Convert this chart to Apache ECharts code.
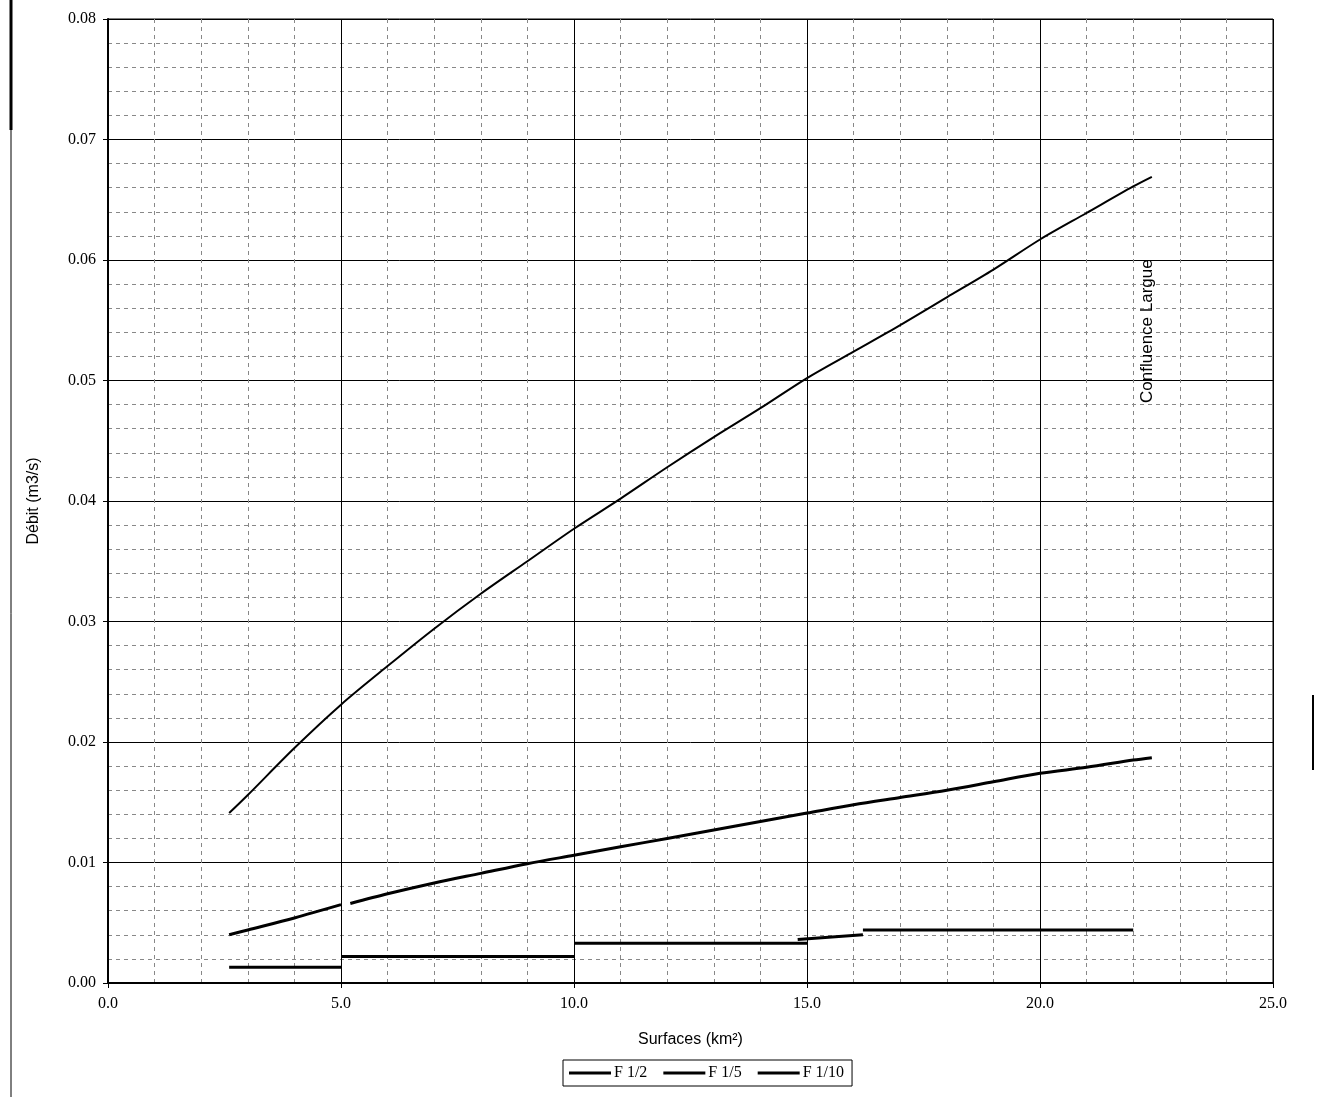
<!DOCTYPE html>
<html>
<head>
<meta charset="utf-8">
<script src="https://cdn.jsdelivr.net/npm/echarts@6/dist/echarts.min.js"></script>
<style>
html,body{margin:0;padding:0;background:#fff;}
#c{width:1320px;height:1097px;}
</style>
</head>
<body>
<div id="c"></div>
<script>
// ---- data ----
const xTickLabels = ['0.0','5.0','10.0','15.0','20.0','25.0'];
const yTickLabels = ['0.00','0.01','0.02','0.03','0.04','0.05','0.06','0.07','0.08'];

const f2X = [2.6, 3, 4, 5, 6, 7, 8, 9, 10, 11, 12, 13, 14, 15, 16, 17, 18, 19, 20, 21, 22, 22.4];
const f2Y = [0.0141, 0.0156, 0.0195, 0.0231, 0.0263, 0.0294, 0.0323, 0.0350, 0.0377, 0.0402, 0.0428, 0.0453, 0.0477, 0.0502, 0.0524, 0.0546, 0.0569, 0.0592, 0.0617, 0.0639, 0.0661, 0.0669];

const f5X = [2.6, 3, 4, 5, null, 5.2, 6, 7, 8, 9, 10, 11, 12, 13, 14, 15, 16, 17, 18, 19, 20, 21, 22, 22.4];
const f5Y = [0.0040, 0.0044, 0.0054, 0.0065, null, 0.0066, 0.0074, 0.0083, 0.0091, 0.0099, 0.0106, 0.0113, 0.0120, 0.0127, 0.0134, 0.0141, 0.0148, 0.0154, 0.0160, 0.0167, 0.0174, 0.0179, 0.0185, 0.0187];

const f10X = [2.6, 5, null, 5, 10, null, 10, 15, null, 14.8, 16.2, null, 16.2, 22];
const f10Y = [0.0013, 0.0013, null, 0.0022, 0.0022, null, 0.0033, 0.0033, null, 0.0036, 0.0040, null, 0.0044, 0.0044];

const seriesNames = ['F 1/2', 'F 1/5', 'F 1/10'];
const annotation = 'Confluence Largue';

function pairs(xs, ys){
  return xs.map((x,i)=> (x===null||ys[i]===null) ? '-' : [x, ys[i]]);
}

const chart = echarts.init(document.getElementById('c'), null, {renderer:'canvas'});
const serif = '"Liberation Serif", "DejaVu Serif", serif';
const sans = '"Liberation Sans", Arial, sans-serif';

const option = {
  backgroundColor:'#fff',
  animation:false,
  grid:{left:108, right:47, top:19, bottom:114, show:true, borderColor:'#000', borderWidth:1},
  xAxis:{
    type:'value', min:0, max:25, interval:5,
    name:'Surfaces (km²)', nameLocation:'middle', nameGap:49,
    nameTextStyle:{fontFamily:sans, fontSize:16, color:'#000'},
    axisLine:{show:true, onZero:false, lineStyle:{color:'#000', width:2}},
    axisTick:{show:true, length:5, inside:false, lineStyle:{color:'#000'}},
    axisLabel:{fontFamily:serif, fontSize:16, color:'#000', margin:13,
      formatter:(v)=> xTickLabels[Math.round(v/5)] },
    splitLine:{show:true, lineStyle:{color:'#000', width:1}},
    minorTick:{show:false, splitNumber:5},
    minorSplitLine:{show:true, lineStyle:{color:'#888', width:1, type:[4,4]}}
  },
  yAxis:{
    type:'value', min:0, max:0.08, interval:0.01,
    name:'Débit (m3/s)', nameLocation:'middle', nameGap:66, nameRotate:90,
    nameTextStyle:{fontFamily:sans, fontSize:16, color:'#000'},
    axisLine:{show:true, lineStyle:{color:'#000', width:2}},
    axisTick:{show:true, length:5, lineStyle:{color:'#000'}},
    axisLabel:{fontFamily:serif, fontSize:16, color:'#000', margin:12,
      formatter:(v)=> yTickLabels[Math.round(v*100)] },
    splitLine:{show:true, lineStyle:{color:'#000', width:1}},
    minorTick:{show:false, splitNumber:5},
    minorSplitLine:{show:true, lineStyle:{color:'#888', width:1, type:[4,4]}}
  },
  legend:{
    top:1060, left:563,
    data:[
      {name:seriesNames[0], icon:'rect'},
      {name:seriesNames[1], icon:'rect'},
      {name:seriesNames[2], icon:'rect'}
    ],
    itemWidth:42, itemHeight:3, itemGap:16,
    borderColor:'#000', borderWidth:1, padding:[5,8,5,6],
    textStyle:{fontFamily:serif, fontSize:16, color:'#000', padding:[0,0,0,-2]}
  },
  series:[
    {name:seriesNames[0], type:'line', data:pairs(f2X,f2Y), symbol:'none', smooth:0.3,
      lineStyle:{color:'#000', width:2}, itemStyle:{color:'#000'}, connectNulls:false, z:5},
    {name:seriesNames[1], type:'line', data:pairs(f5X,f5Y), symbol:'none', smooth:0.3,
      lineStyle:{color:'#000', width:3}, itemStyle:{color:'#000'}, connectNulls:false, z:5},
    {name:seriesNames[2], type:'line', data:pairs(f10X,f10Y), symbol:'none',
      lineStyle:{color:'#000', width:3}, itemStyle:{color:'#000'}, connectNulls:false, z:5}
  ]
};
chart.setOption(option);

const p = chart.convertToPixel({gridIndex:0}, [22.3, 0.0541]);
chart.setOption({
  graphic:[
    {type:'text', x:p[0], y:p[1], rotation:Math.PI/2,
      style:{text:annotation, fontFamily:sans, fontSize:17, fill:'#000', align:'center', verticalAlign:'middle'}},
    {type:'line', shape:{x1:11, y1:0, x2:11, y2:130}, style:{stroke:'#000', lineWidth:3}},
    {type:'line', shape:{x1:11, y1:130, x2:11, y2:1097}, style:{stroke:'#000', lineWidth:1}},
    {type:'line', shape:{x1:1313, y1:695, x2:1313, y2:770}, style:{stroke:'#000', lineWidth:2}}
  ]
});
</script>
</body>
</html>
